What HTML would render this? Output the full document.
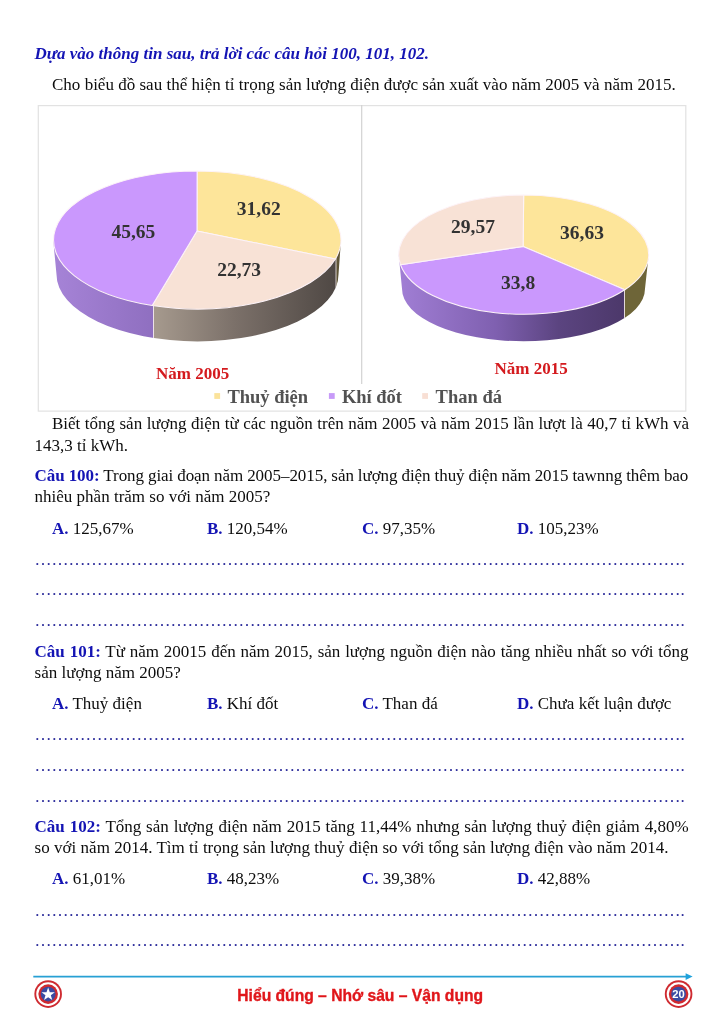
<!DOCTYPE html>
<html lang="vi"><head><meta charset="utf-8"><title>Trang 20</title>
<style>
html,body{margin:0;padding:0;background:#fff}
#page{position:relative;width:724px;height:1024px;overflow:hidden;background:#fff;font-family:"Liberation Serif",serif;font-size:17px;color:#0d0d0d}
.l{position:absolute;white-space:nowrap;line-height:20px;height:20px;left:34.6px}

.b{color:#1414b4;font-weight:bold}
.d{color:#2a2a9a;left:34.6px}
.o1{left:52px}.o2{left:207px}.o3{left:362px}.o4{left:517px}
svg{position:absolute;left:0;top:0}
svg text{font-family:"Liberation Serif",serif;font-weight:bold}
</style></head><body><div id="page">

<div class="l b" id="t1" style="top:44px;font-style:italic">Dựa vào thông tin sau, trả lời các câu hỏi 100, 101, 102.</div>
<div class="l" id="t2" style="top:75px;left:52px;word-spacing:0.05px">Cho biểu đồ sau thể hiện tỉ trọng sản lượng điện được sản xuất vào năm 2005 và năm 2015.</div>

<svg id="chart" width="724" height="1024" viewBox="0 0 724 1024">
<defs>
<linearGradient id="gp1" x1="0" x2="1" y1="0" y2="0"><stop offset="0" stop-color="#a986da"/><stop offset="1" stop-color="#8f6fc0"/></linearGradient>
<linearGradient id="gg1" x1="0" x2="1" y1="0" y2="0"><stop offset="0" stop-color="#a69a8e"/><stop offset="0.45" stop-color="#7b7069"/><stop offset="1" stop-color="#4f4844"/></linearGradient>
<linearGradient id="gp2" x1="0" x2="1" y1="0" y2="0"><stop offset="0" stop-color="#a481d8"/><stop offset="0.45" stop-color="#7f60b0"/><stop offset="0.72" stop-color="#5b4480"/><stop offset="1" stop-color="#4c386a"/></linearGradient>
</defs>
<rect x="38.3" y="105.6" width="647.5" height="305.5" fill="#fff" stroke="#e2e2e2" stroke-width="1.2"/>
<line x1="361.7" y1="105" x2="361.7" y2="384" stroke="#d2d2d2" stroke-width="1.2"/>
<!-- pie 2005 -->
<g id="pie1"><clipPath id="p1c"><path d="M341.0,240.0 L338.5,274.4 A141.0,67.0 0 0 1 56.5,274.4 L53.2,240.0 Z"/></clipPath>
<g clip-path="url(#p1c)">
<rect x="40.0" y="235.0" width="113.5" height="111.4" fill="url(#gp1)"/>
<rect x="153.5" y="235.0" width="182.5" height="111.4" fill="url(#gg1)"/>
<rect x="336.0" y="235.0" width="24.0" height="111.4" fill="#5e5436"/>
<line x1="153.5" y1="305.8" x2="153.5" y2="339.1" stroke="#fdf3f8" stroke-width="0.9" stroke-opacity="0.85"/>
<line x1="336.0" y1="258.0" x2="336.0" y2="288.0" stroke="#fdf3f8" stroke-width="0.9" stroke-opacity="0.85"/>
</g>
<path d="M197.0,231.0 L197.1,171.0 A143.9,69.0 0 0 1 335.4,259.0 Z" fill="#fde59a" stroke="#fdf3f8" stroke-width="1.05" stroke-linejoin="round"/>
<path d="M197.0,231.0 L335.4,259.0 A143.9,69.0 0 0 1 152.2,305.5 Z" fill="#f8e2d6" stroke="#fdf3f8" stroke-width="1.05" stroke-linejoin="round"/>
<path d="M197.0,231.0 L152.2,305.5 A143.9,69.0 0 0 1 197.1,171.0 Z" fill="#ca98fd" stroke="#fdf3f8" stroke-width="1.05" stroke-linejoin="round"/></g>
<g id="pie2"><clipPath id="p2c"><path d="M648.7,254.6 L645.0,288.8 A121.5,52.5 0 0 1 402.0,288.8 L398.7,254.6 Z"/></clipPath>
<g clip-path="url(#p2c)">
<rect x="390.0" y="249.6" width="234.5" height="96.7" fill="url(#gp2)"/>
<rect x="624.5" y="249.6" width="35.5" height="96.7" fill="#6e6538"/>
<line x1="624.5" y1="289.9" x2="624.5" y2="319.0" stroke="#fdf3f8" stroke-width="0.9" stroke-opacity="0.85"/>
</g>
<path d="M523.1,246.4 L523.7,194.9 A125.0,59.7 0 0 1 624.8,289.7 Z" fill="#fde59a" stroke="#fdf3f8" stroke-width="1.05" stroke-linejoin="round"/>
<path d="M523.1,246.4 L624.8,289.7 A125.0,59.7 0 0 1 400.5,264.7 Z" fill="#ca98fd" stroke="#fdf3f8" stroke-width="1.05" stroke-linejoin="round"/>
<path d="M523.1,246.4 L400.5,264.7 A125.0,59.7 0 0 1 523.7,194.9 Z" fill="#f8e2d6" stroke="#fdf3f8" stroke-width="1.05" stroke-linejoin="round"/></g>
<text x="111.4" y="237.5" font-size="19.5" fill="#333">45,65</text>
<text x="236.8" y="215" font-size="19.5" fill="#333">31,62</text>
<text x="217.2" y="276.4" font-size="19.5" fill="#333">22,73</text>
<text x="451" y="233" font-size="19.5" fill="#333">29,57</text>
<text x="560" y="238.5" font-size="19.5" fill="#333">36,63</text>
<text x="501" y="289.2" font-size="19.5" fill="#333">33,8</text>
<text x="156.1" y="378.6" font-size="17" fill="#d41a1e">Năm 2005</text>
<text x="494.5" y="373.5" font-size="17.05" fill="#d41a1e">Năm 2015</text>
<rect x="214.3" y="393.1" width="5.8" height="5.8" fill="#fbe39b"/>
<text x="227.4" y="402.8" font-size="18.5" fill="#525252">Thuỷ điện</text>
<rect x="328.9" y="393.1" width="5.8" height="5.8" fill="#c79af8"/>
<text x="341.9" y="402.8" font-size="18.5" fill="#525252">Khí đốt</text>
<rect x="422.2" y="393.1" width="5.8" height="5.8" fill="#f8dfd4"/>
<text x="435.6" y="402.8" font-size="18.5" fill="#525252">Than đá</text>
</svg>

<div class="l" id="t3" style="top:414px;left:52px;word-spacing:0.225px">Biết tổng sản lượng điện từ các nguồn trên năm 2005 và năm 2015 lần lượt là 40,7 tỉ kWh và</div>
<div class="l" id="t4" style="top:435.7px">143,3 tỉ kWh.</div>
<div class="l" id="t5" style="top:466px;word-spacing:-0.2px;letter-spacing:-0.055px"><span class="b">Câu 100:</span> Trong giai đoạn năm 2005–2015, sản lượng điện thuỷ điện năm 2015 tawnng thêm bao</div>
<div class="l" id="t6" style="top:487px">nhiêu phần trăm so với năm 2005?</div>
<div class="l o1" id="a1" style="top:519px"><span class="b">A.</span> 125,67%</div>
<div class="l o2" id="a2" style="top:519px"><span class="b">B.</span> 120,54%</div>
<div class="l o3" id="a3" style="top:519px"><span class="b">C.</span> 97,35%</div>
<div class="l o4" id="a4" style="top:519px"><span class="b">D.</span> 105,23%</div>
<div class="l d" id="d1" style="top:549.6px">…………………………………………………………………………………………………….</div>
<div class="l d" id="d2" style="top:580.1px">…………………………………………………………………………………………………….</div>
<div class="l d" id="d3" style="top:611.1px">…………………………………………………………………………………………………….</div>

<div class="l" id="t7" style="top:642px;word-spacing:0.567px"><span class="b">Câu 101:</span> Từ năm 20015 đến năm 2015, sản lượng nguồn điện nào tăng nhiều nhất so với tổng</div>
<div class="l" id="t8" style="top:663px">sản lượng năm 2005?</div>
<div class="l o1" id="b1" style="top:693.7px"><span class="b">A.</span> Thuỷ điện</div>
<div class="l o2" id="b2" style="top:693.7px"><span class="b">B.</span> Khí đốt</div>
<div class="l o3" id="b3" style="top:693.7px"><span class="b">C.</span> Than đá</div>
<div class="l o4" id="b4" style="top:693.7px"><span class="b">D.</span> Chưa kết luận được</div>
<div class="l d" id="d4" style="top:725px">…………………………………………………………………………………………………….</div>
<div class="l d" id="d5" style="top:755.6px">…………………………………………………………………………………………………….</div>
<div class="l d" id="d6" style="top:786.5px">…………………………………………………………………………………………………….</div>

<div class="l" id="t9" style="top:817px;word-spacing:0.6px"><span class="b">Câu 102:</span> Tổng sản lượng điện năm 2015 tăng 11,44% nhưng sản lượng thuỷ điện giảm 4,80%</div>
<div class="l" id="t10" style="top:838.3px;word-spacing:0.08px">so với năm 2014. Tìm tỉ trọng sản lượng thuỷ điện so với tổng sản lượng điện vào năm 2014.</div>
<div class="l o1" id="c1" style="top:869.4px"><span class="b">A.</span> 61,01%</div>
<div class="l o2" id="c2" style="top:869.4px"><span class="b">B.</span> 48,23%</div>
<div class="l o3" id="c3" style="top:869.4px"><span class="b">C.</span> 39,38%</div>
<div class="l o4" id="c4" style="top:869.4px"><span class="b">D.</span> 42,88%</div>
<div class="l d" id="d7" style="top:900.5px">…………………………………………………………………………………………………….</div>
<div class="l d" id="d8" style="top:930.9px">…………………………………………………………………………………………………….</div>

<svg id="foot" width="724" height="1024" viewBox="0 0 724 1024">
<line x1="33.3" y1="976.7" x2="687" y2="976.7" stroke="#27a0d4" stroke-width="1.8"/>
<polygon points="685.6,973.3 692.6,976.6 685.6,979.9" fill="#1fa2dc"/>
<g id="shield">
<circle cx="48.15" cy="994.1" r="13.8" fill="#cf2a30"/>
<circle cx="48.15" cy="994.1" r="11.9" fill="#fff"/>
<circle cx="48.15" cy="994.1" r="9.8" fill="#cf2a30"/>
<circle cx="48.15" cy="994.1" r="7.4" fill="#3a4ba2"/>
<polygon id="star" fill="#fff" points="48.15,987.40 49.80,992.13 54.81,992.24 50.81,995.27 52.26,1000.06 48.15,997.20 44.04,1000.06 45.49,995.27 41.49,992.24 46.50,992.13"/>
</g>
<g id="badge">
<circle cx="678.6" cy="994.1" r="13.8" fill="#cf2a30"/>
<circle cx="678.6" cy="994.1" r="11.9" fill="#fff"/>
<circle cx="678.6" cy="994.1" r="9.8" fill="#cf2a30"/>
<circle cx="678.6" cy="994.1" r="7.4" fill="#3a4ba2"/>
<text x="678.5" y="997.5" text-anchor="middle" font-size="11.2" fill="#fff" style="font-family:'Liberation Sans',sans-serif;font-weight:bold">20</text>
</g>
</svg>
<div class="l" id="ft" style="left:237.3px;top:986px;font-family:'Liberation Sans',sans-serif;font-weight:bold;font-size:15.65px;color:#e0161a;-webkit-text-stroke:0.35px #e0161a">Hiểu đúng – Nhớ sâu – Vận dụng</div>
</div></body></html>
